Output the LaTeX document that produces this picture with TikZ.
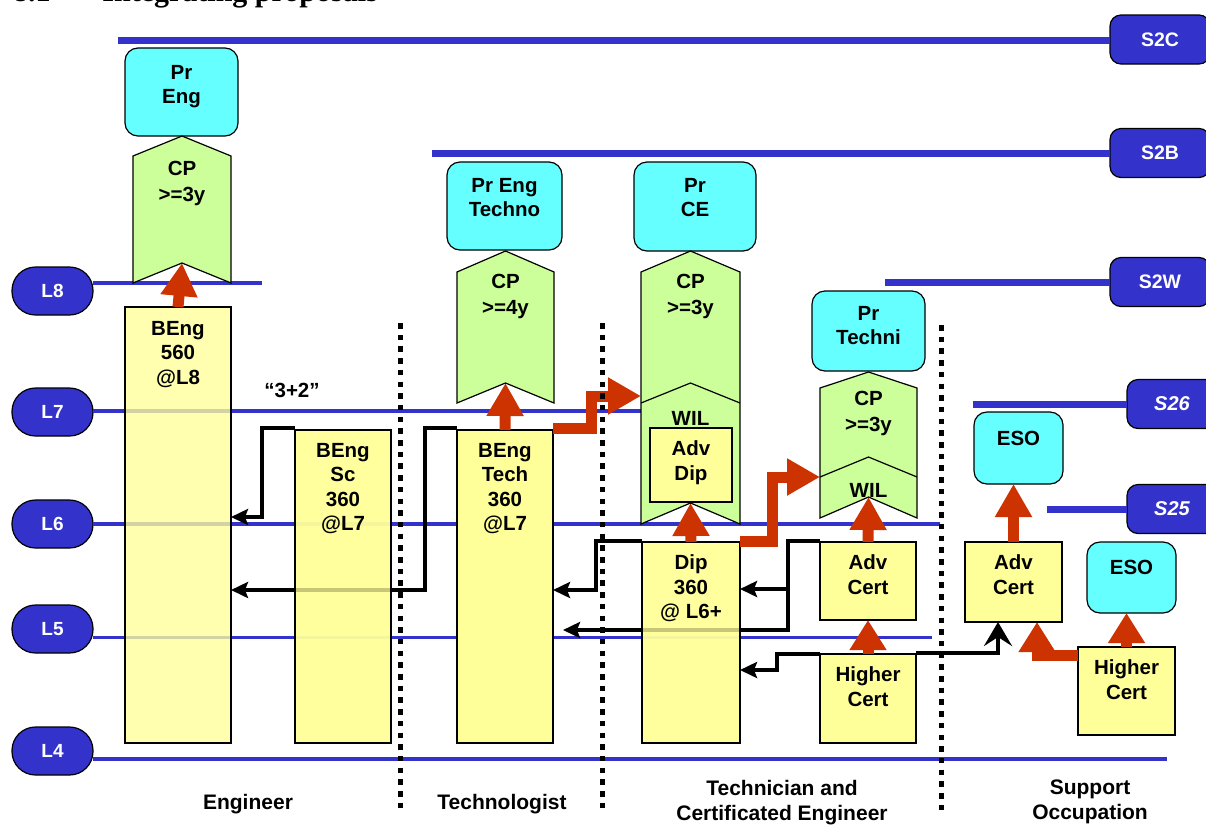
\documentclass[tikz,border=0pt]{standalone}
\usepackage{fontspec}
\setmainfont{Liberation Sans}
\newfontfamily\titlefont{Liberation Serif}
\usetikzlibrary{arrows.meta,calc}
\definecolor{lblue}{RGB}{51,51,204}
\definecolor{cyanb}{RGB}{102,255,255}
\definecolor{yel}{RGB}{255,255,153}
\definecolor{grn}{RGB}{204,255,153}
\definecolor{redo}{RGB}{204,51,0}
\begin{document}
\begin{tikzpicture}[x=1pt,y=-1pt,
 every node/.style={inner sep=0pt, outer sep=0pt},
 bx/.style={draw=black, line width=1.2, anchor=north west},
 ybox/.style={bx, fill=yel},
 pbox/.style={bx, fill=yel, fill opacity=0.78},
 cbox/.style={bx, fill=cyanb, rounded corners=13},
 chev/.style={draw=black, line width=1.2, fill=grn, line join=miter},
 txt/.style={font=\bfseries\fontsize{20.5}{24.5}\selectfont, align=center, anchor=north, yshift=-3, execute at begin node=\strut},
 cptxt/.style={txt, font=\bfseries\fontsize{20.5}{26.5}\selectfont},
 btxt/.style={font=\bfseries\fontsize{21}{25}\selectfont, align=center, anchor=north, execute at begin node=\strut},
 lab/.style={draw=black, line width=1.2, fill=lblue, text=white, font=\bfseries\fontsize{19}{23}\selectfont, minimum width=81, minimum height=48, rounded corners=23.5},
 slab/.style={draw=black, line width=1.2, fill=lblue, text=white, font=\bfseries\fontsize{19.5}{23}\selectfont, minimum height=49, rounded corners=11},
 sline/.style={draw=lblue, line width=7},
 lline/.style={draw=lblue, line width=3.5},
 blk/.style={draw=black, line width=4, line join=miter, -{Stealth[length=17,width=16,inset=3]}},
 blkbig/.style={draw=black, line width=4, line join=miter, -{Stealth[length=24,width=28,inset=9]}},
 redarr/.style={draw=redo, line width=11, line join=miter, -{Triangle[length=33,width=35]}},
 sepl/.style={draw=black, line width=5, dash pattern=on 5.5 off 6.2}
]
\clip (0,0) rectangle (1206,825);

% title (cut off at top)
\node[anchor=base west, font=\titlefont\bfseries\fontsize{30}{36}\selectfont] (title) at (13,1) {8.1\hspace{52pt}Integrating proposals};

% level labels
\node[lab] (l8) at (52.5,291) {L8};
\node[lab] (l7) at (52.5,412) {L7};
\node[lab] (l6) at (52.5,524) {L6};
\node[lab] (l5) at (52.5,629) {L5};
\node[lab] (l4) at (52.5,751) {L4};

% S labels
\node[slab, minimum width=100] (s2c) at (1160,39.5) {S2C};
\node[slab, minimum width=100] (s2b) at (1160,153) {S2B};
\node[slab, minimum width=100] (s2w) at (1160,282) {S2W};
\node[slab, minimum width=90, font=\bfseries\itshape\fontsize{20}{23}\selectfont] (s26) at (1172,404) {S26};
\node[slab, minimum width=90, font=\bfseries\itshape\fontsize{20}{23}\selectfont] (s25) at (1172,509) {S25};

% S lines
\draw[sline] (118,40) -- (s2c.west |- 0,40);
\draw[sline] (432,153) -- (s2b.west);
\draw[sline] (885,282) -- (s2w.west);
\draw[sline] (973,404) -- (s26.west);
\draw[sline] (1047,509) -- (s25.west);

% L lines
\draw[lline] (l8.east |- 0,283) -- (262,283);
\draw[lline] (l7.east |- 0,411) -- (641,411);
\draw[lline] (l6.east |- 0,524) -- (940,524);
\draw[lline] (l5.east |- 0,637.5) -- (932,637.5);
\draw[lline, line width=4] (l4.east |- 0,759) -- (1167,759);

% boxes
\node[pbox, minimum width=106, minimum height=436] (beng) at (125,307) {};
\node[pbox, minimum width=96, minimum height=313] (bsc) at (295,430) {};
\node[ybox, minimum width=96, minimum height=313] (btech) at (457,430) {};
\node[pbox, minimum width=98, minimum height=201] (dip) at (642,542) {};
\node[ybox, minimum width=96, minimum height=78] (act) at (820,542) {};
\node[ybox, minimum width=96, minimum height=89] (hct) at (820,654) {};
\node[ybox, minimum width=97, minimum height=80] (acs) at (965,542) {};
\node[ybox, minimum width=97, minimum height=88] (hcs) at (1078,647) {};

% black connectors
\draw[blk] ([yshift=2]bsc.north west) -| (262,517) -- (beng.east |- 0,517);
\draw[blk] ([yshift=2]btech.north west) -| (425,590) -- (beng.east |- 0,590);
\draw[blk] ([yshift=1]dip.north west) -| (596,590) -- (btech.east |- 0,590);
\draw[blk] ([yshift=1]act.north west) -| (788,589) -- (dip.east |- 0,589);
\coordinate (brk) at (788,587);
\draw[blk] (brk) -- (788,630) -- ([xshift=10]btech.east |- 0,630);
\draw[blk] (hct.north west) -| (777,670) -- (dip.east |- 0,670);
\draw[blkbig] ([yshift=1]hct.north east) -| ([xshift=-15.5]acs.south);

% redraw patterned boxes over the black lines
\node[pbox, minimum width=96, minimum height=313] at (295,430) {};
\node[pbox, minimum width=98, minimum height=201] at (642,542) {};

% cyan boxes
\node[cbox, minimum width=113, minimum height=88] (preng) at (125,48) {};
\node[cbox, minimum width=115, minimum height=88] (prtechno) at (447,162) {};
\node[cbox, minimum width=122, minimum height=89] (prce) at (634,162) {};
\node[cbox, minimum width=113, minimum height=80] (prtechni) at (812,291) {};
\node[cbox, minimum width=89, minimum height=72] (eso1) at (974,412) {};
\node[cbox, minimum width=89, minimum height=71] (eso2) at (1087,542) {};

% chevrons
\draw[chev] (133,156) -- (182,136) -- (231,156) -- (231,283) -- (182,263) -- (133,283) -- cycle;
\coordinate (engnotch) at (182,263);
\draw[chev] (457,272) -- (505.5,251) -- (554,272) -- (554,403) -- (505.5,383) -- (457,403) -- cycle;
\coordinate (technonotch) at (505.5,383);
\draw[chev] (641,272) -- (690.5,251) -- (740,272) -- (740,524) -- (690.5,503) -- (641,524) -- cycle;
\draw[chev, fill=none] (641,403) -- (690.5,383) -- (740,403);
\coordinate (cenotch) at (690.5,503);
\coordinate (cel) at (641,396);
\draw[chev] (820,388) -- (868.5,372) -- (917,388) -- (917,518) -- (868.5,497) -- (820,518) -- cycle;
\draw[chev, fill=none] (820,477) -- (868.5,457) -- (917,477);
\coordinate (technotch) at (868.5,497);
\coordinate (techwil) at (820,477);
\node[ybox, minimum width=82, minimum height=74] (advdip) at (650,428) {};

% texts
\node[txt] at ([yshift=-14]preng.north) {Pr\\Eng};
\node[cptxt] at (182,158) {CP\\>=3y};
\node[txt] at ([yshift=-11]beng.north) {BEng\\560\\@L8};
\node[txt] (q32) at (292,377) {“3+2”};
\node[txt] at ([yshift=-10]bsc.north) {BEng\\Sc\\360\\@L7};
\node[txt] at ([yshift=-10]btech.north) {BEng\\Tech\\360\\@L7};
\node[txt] at ([yshift=-13]prtechno.north) {Pr Eng\\Techno};
\node[cptxt] at (505.5,271) {CP\\>=4y};
\node[txt] at ([yshift=-13]prce.north) {Pr\\CE};
\node[cptxt] at (690.5,271) {CP\\>=3y};
\node[txt] at (690.5,405) {WIL};
\node[txt] at ([yshift=-10]advdip.north) {Adv\\Dip};
\node[txt] at ([yshift=-10]dip.north) {Dip\\360\\@ L6+};
\node[txt] at ([yshift=-12]prtechni.north) {Pr\\Techni};
\node[cptxt] at (868.5,388) {CP\\>=3y};
\node[txt] at (868.5,477) {WIL};
\node[txt] at ([yshift=-10]act.north) {Adv\\Cert};
\node[txt] at ([yshift=-10]hct.north) {Higher\\Cert};
\node[txt] at ([yshift=-13]eso1.north) {ESO};
\node[txt] at ([yshift=-10]acs.north) {Adv\\Cert};
\node[txt] at ([yshift=-12]eso2.north) {ESO};
\node[txt] at ([yshift=-10]hcs.north) {Higher\\Cert};

% red arrows
\draw[redarr] (beng.north) -- (engnotch);
\draw[redarr] (btech.north) -- (technonotch);
\draw[redarr] (dip.north) -- (cenotch);
\draw[redarr] (act.north) -- (technotch);
\draw[redarr, -{Triangle[length=30,width=35]}] (hct.north) -- (act.south);
\draw[redarr] (acs.north) -- (acs.north |- eso1.south);
\draw[redarr, -{Triangle[length=30,width=35]}] (hcs.north) -- (hcs.north |- eso2.south);
\draw[redarr, -{Triangle[length=30,width=35]}] (hcs.west |- 0,655) -| ([xshift=23.5]acs.south);
\draw[redarr] ([yshift=2]btech.north east) -| (591,396) -- (cel);
\draw[redarr] ([yshift=1]dip.north east) -| (772,477) -- (techwil);

% separators
\draw[sepl] (400,323) -- (400,810);
\draw[sepl] (602,323) -- (602,810);
\draw[sepl] (941,325) -- (941,810);

% bottom labels
\node[btxt] (eng) at (248,792) {Engineer};
\node[btxt] (tgist) at (502,792) {Technologist};
\node[btxt] (tcian) at (782,780) {Technician and\\Certificated Engineer};
\node[btxt] (supp) at (1090,780) {Support\\Occupation};
\end{tikzpicture}
\end{document}
